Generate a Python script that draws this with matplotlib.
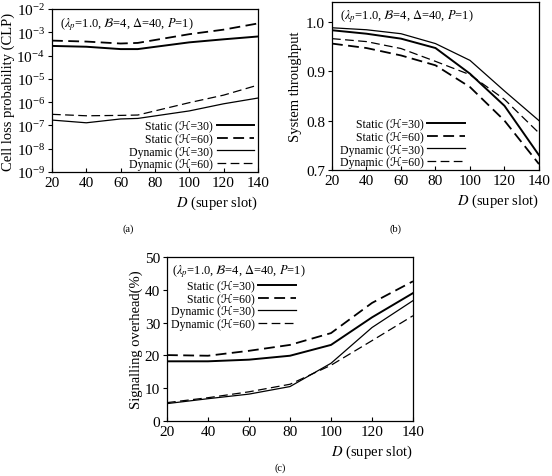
import numpy as np
import matplotlib
matplotlib.use("Agg")
import matplotlib.pyplot as plt

# 字体：Times 风格，花体字母用 DejaVu 补
plt.rcParams['font.family'] = ['Liberation Serif', 'DejaVu Serif', 'DejaVu Sans']
plt.rcParams['mathtext.fontset'] = 'stix'

# 横轴 D (super slot)
D = [20, 40, 60, 80, 100, 120, 140]
D_clp = [20, 40, 60, 70, 100, 120, 140]

# (a) 信元丢失率
clp_static30 = [2.6e-4, 2.4e-4, 1.9e-4, 1.9e-4, 3.7e-4, 5.0e-4, 6.6e-4]
clp_static60 = [4.4e-4, 4.0e-4, 3.3e-4, 3.5e-4, 8.3e-4, 1.3e-3, 2.4e-3]
clp_dynamic30 = [1.7e-7, 1.3e-7, 1.9e-7, 2.0e-7, 4.2e-7, 8.5e-7, 1.5e-6]
clp_dynamic60 = [3.0e-7, 2.6e-7, 2.7e-7, 2.8e-7, 9.5e-7, 2.0e-6, 5.4e-6]

# (b) 系统吞吐量
thr_static30 = [0.983, 0.976, 0.966, 0.947, 0.895, 0.830, 0.730]
thr_static60 = [0.956, 0.947, 0.932, 0.912, 0.868, 0.800, 0.712]
thr_dynamic30 = [0.988, 0.984, 0.976, 0.956, 0.922, 0.860, 0.800]
thr_dynamic60 = [0.966, 0.960, 0.946, 0.920, 0.893, 0.843, 0.775]

# (c) 信令开销
sig_static30 = [18.2, 18.2, 18.7, 19.9, 23.2, 31.6, 39.0]
sig_static60 = [20.1, 19.9, 21.4, 23.2, 26.8, 36.0, 42.6]
sig_dynamic30 = [5.3, 6.8, 8.2, 10.5, 17.6, 28.5, 36.7]
sig_dynamic60 = [5.6, 7.1, 8.9, 11.2, 17.0, 24.5, 32.1]

labels = ["Static (\u210b=30)", "Static (\u210b=60)",
          "Dynamic (\u210b=30)", "Dynamic (\u210b=60)"]
note = r"($\lambda_p$=1.0, $\mathcal{B}$=4, $\Delta$=40, $P$=1)"

styles = [dict(color='black', lw=1.4, ls='-'),
          dict(color='black', lw=1.3, ls=(0, (6, 3))),
          dict(color='black', lw=0.9, ls='-'),
          dict(color='black', lw=0.9, ls=(0, (7, 3.5)))]

leg_kw = dict(markerfirst=False, frameon=False, fontsize=8.5, handlelength=3.2,
              labelspacing=0.05, handletextpad=0.3, borderaxespad=0.1, borderpad=0.2)

fig = plt.figure(figsize=(5.52, 4.77), dpi=100)
ax_a = fig.add_axes([0.0942, 0.6373, 0.373, 0.3417])
ax_b = fig.add_axes([0.6014, 0.6415, 0.375, 0.352])
ax_c = fig.add_axes([0.3025, 0.1153, 0.4457, 0.3438])


def style_axes(ax):
    ax.set_xlim(20, 140)
    ax.set_xticks(D)
    ax.tick_params(axis='x', direction='in', length=3, labelsize=11, pad=3)
    ax.tick_params(axis='y', direction='out', length=3, labelsize=11, pad=2)
    ax.set_xlabel(r"$D$ (super slot)", loc='right', fontsize=10.5, labelpad=3)
    for s in ax.spines.values():
        s.set_linewidth(0.9)


# (a)
for y, st, lb in zip([clp_static30, clp_static60, clp_dynamic30, clp_dynamic60], styles, labels):
    ax_a.plot(D_clp, y, label=lb, **st)
ax_a.set_yscale('log')
ax_a.set_ylim(1e-9, 1e-2)
ax_a.set_yticks([10.0 ** k for k in range(-9, -1)])
ax_a.minorticks_off()
style_axes(ax_a)
ax_a.set_ylabel("Cell loss probability (CLP)", fontsize=10.5, labelpad=1)
ax_a.text(0.04, 0.96, note, transform=ax_a.transAxes, fontsize=9, va='top')
ax_a.legend(loc='lower right', bbox_to_anchor=(1.0, -0.01), **leg_kw)

# (b)
for y, st, lb in zip([thr_static30, thr_static60, thr_dynamic30, thr_dynamic60], styles, labels):
    ax_b.plot(D, y, label=lb, **st)
ax_b.set_ylim(0.7, 1.04)
ax_b.set_yticks([0.7, 0.8, 0.9, 1.0])
style_axes(ax_b)
ax_b.set_ylabel("System throughput", fontsize=10.5, labelpad=3)
ax_b.text(0.04, 0.97, note, transform=ax_b.transAxes, fontsize=9, va='top')
ax_b.legend(loc='lower left', bbox_to_anchor=(0.02, -0.01), **leg_kw)

# (c)
for y, st, lb in zip([sig_static30, sig_static60, sig_dynamic30, sig_dynamic60], styles, labels):
    ax_c.plot(D, y, label=lb, **st)
ax_c.set_ylim(0, 50)
ax_c.set_yticks([0, 10, 20, 30, 40, 50])
style_axes(ax_c)
ax_c.set_ylabel("Signalling overhead(%)", fontsize=10.5, labelpad=1)
ax_c.text(0.02, 0.97, note, transform=ax_c.transAxes, fontsize=9, va='top')
ax_c.legend(loc='upper left', bbox_to_anchor=(0.0, 0.88), **leg_kw)

# 子图编号
fig.text(128 / 552, 1 - 229 / 477, "(a)", ha='center', va='center', fontsize=7.5)
fig.text(395 / 552, 1 - 229 / 477, "(b)", ha='center', va='center', fontsize=7.5)
fig.text(280 / 552, 1 - 463 / 477, "(c)", ha='center', va='top', fontsize=7.5)

fig.savefig("out.png", dpi=100)
